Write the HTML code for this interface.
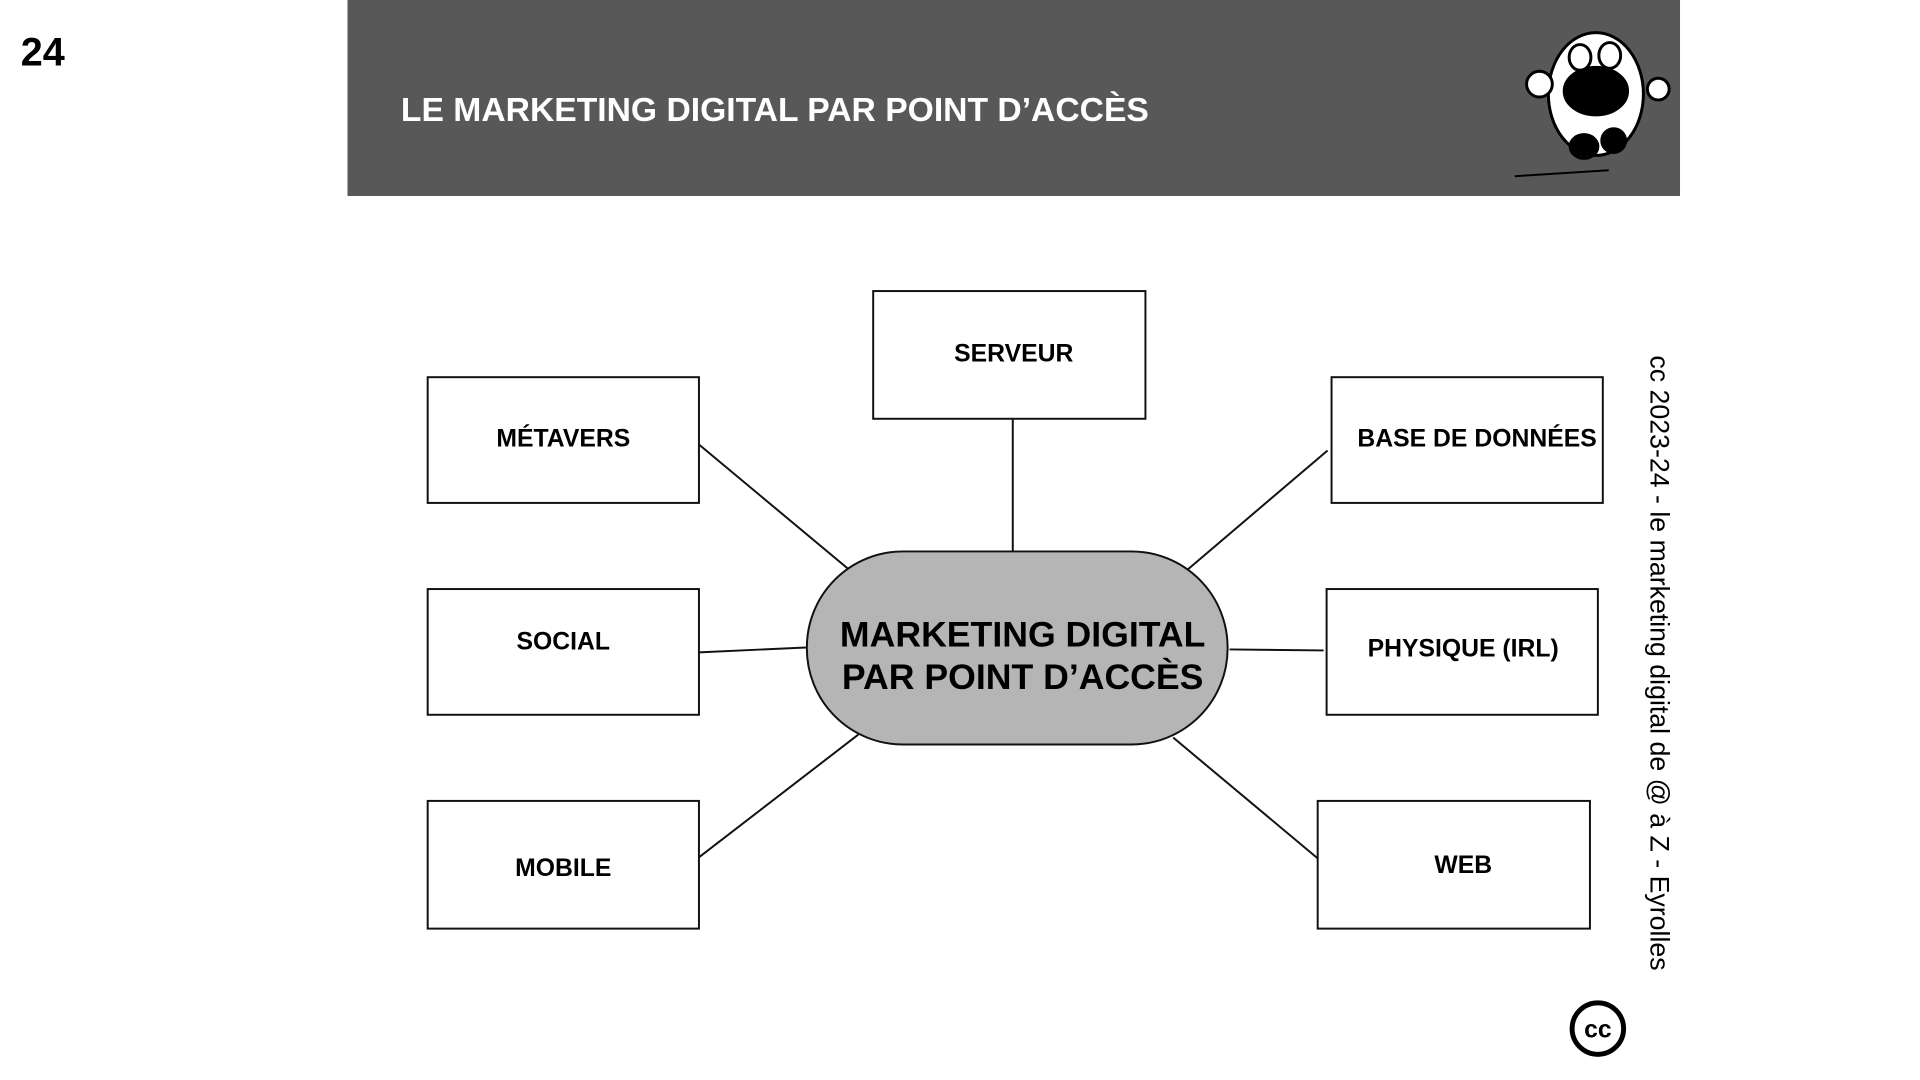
<!DOCTYPE html>
<html><head><meta charset="utf-8"><style>
body{margin:0;width:1920px;height:1080px;background:#fff;overflow:hidden;position:relative;font-family:"Liberation Sans",Arial,sans-serif}
</style></head><body>
<svg width="1920" height="1080" viewBox="0 0 1920 1080" style="position:absolute;left:0;top:0">
<g transform="scale(0.99)">
<text x="21" y="66" font-family="Liberation Sans" font-weight="bold" font-size="40" fill="#000">24</text>
<rect x="351" y="0" width="1346" height="198" fill="#595858"/>
<text x="405" y="122" font-family="Liberation Sans" font-weight="bold" font-size="34" fill="#fff">LE MARKETING DIGITAL PAR POINT D’ACCÈS</text>
<g stroke="#000" stroke-width="3">
<ellipse cx="1612" cy="95" rx="48" ry="62" fill="#fff"/>
<ellipse cx="1612" cy="92" rx="32" ry="24" fill="#000"/>
<ellipse cx="1596" cy="58" rx="11" ry="13" fill="#fff"/>
<ellipse cx="1626" cy="56" rx="11" ry="13" fill="#fff"/>
<circle cx="1555" cy="85" r="13" fill="#fff"/>
<circle cx="1675" cy="90" r="11" fill="#fff"/>
<ellipse cx="1600" cy="148" rx="14" ry="12" fill="#000"/>
<ellipse cx="1630" cy="142" rx="12" ry="12" fill="#000"/>
<line x1="1530" y1="178" x2="1625" y2="172" stroke-width="2"/>
</g>
<g stroke="#111" stroke-width="2" fill="none">
<line x1="1023" y1="423" x2="1023" y2="557"/>
<line x1="706" y1="449" x2="856" y2="574"/>
<line x1="706" y1="659" x2="814" y2="654"/>
<line x1="706" y1="866" x2="867" y2="742"/>
<line x1="1341" y1="455" x2="1200" y2="575"/>
<line x1="1242" y1="656" x2="1337" y2="657"/>
<line x1="1185" y1="745" x2="1331" y2="867"/>
<rect x="882" y="294" width="275" height="129"/>
<rect x="432" y="381" width="274" height="127"/>
<rect x="432" y="595" width="274" height="127"/>
<rect x="432" y="809" width="274" height="129"/>
<rect x="1345" y="381" width="274" height="127"/>
<rect x="1340" y="595" width="274" height="127"/>
<rect x="1331" y="809" width="275" height="129"/>
</g>
<rect x="815" y="557" width="425" height="195" rx="97" ry="97" fill="#b5b5b5" stroke="#111" stroke-width="2"/>
<g font-family="Liberation Sans" font-weight="bold" font-size="36" fill="#000" text-anchor="middle">
<text x="1033" y="653">MARKETING DIGITAL</text>
<text x="1033" y="696">PAR POINT D’ACCÈS</text>
</g>
<g font-family="Liberation Sans" font-weight="bold" font-size="25" fill="#000" text-anchor="middle">
<text x="1024" y="365">SERVEUR</text>
<text x="569" y="451">MÉTAVERS</text>
<text x="569" y="656">SOCIAL</text>
<text x="569" y="885">MOBILE</text>
<text x="1492" y="451">BASE DE DONNÉES</text>
<text x="1478" y="663">PHYSIQUE (IRL)</text>
<text x="1478" y="882">WEB</text>
</g>
<text transform="translate(1667,359) rotate(90)" font-family="Liberation Sans" font-size="27" fill="#000">cc 2023-24  - le marketing digital de @ à Z - Eyrolles</text>
<circle cx="1614" cy="1039" r="26" fill="#fff" stroke="#000" stroke-width="5"/>
<text x="1614" y="1048" text-anchor="middle" font-family="Liberation Sans" font-weight="bold" font-size="25" fill="#000">cc</text>
</g>
</svg>
</body></html>
